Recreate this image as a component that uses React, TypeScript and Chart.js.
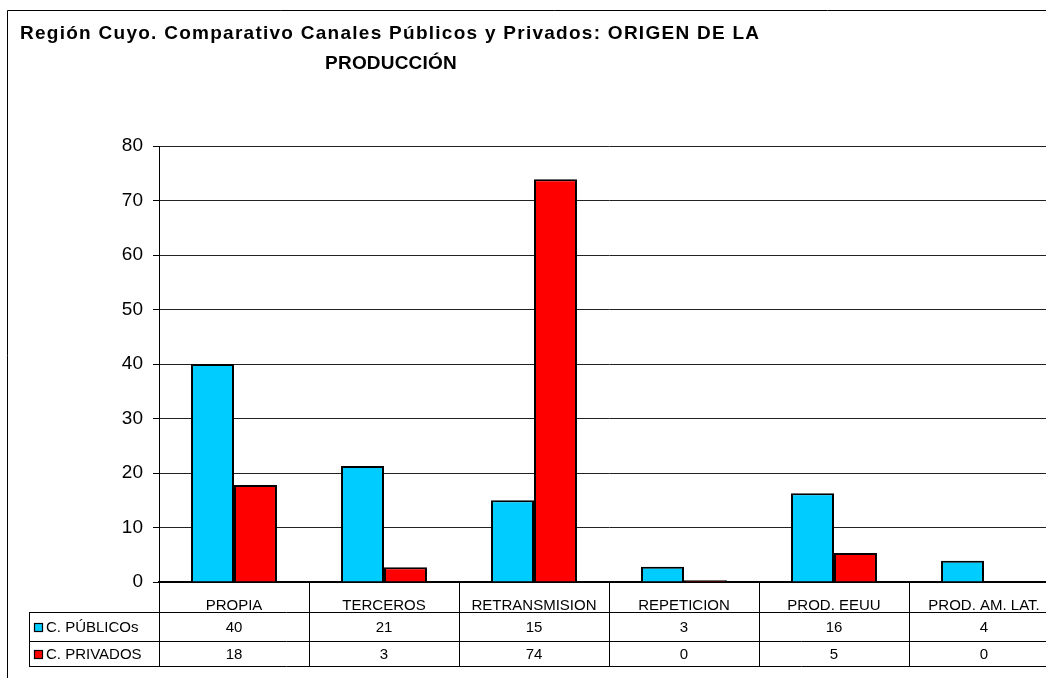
import { useEffect, useRef } from 'react';
import { Chart, registerables } from 'chart.js';

Chart.register(...registerables);

const titleLines = [
  'Región Cuyo. Comparativo Canales Públicos y Privados: ORIGEN DE LA',
  'PRODUCCIÓN',
];
const categories = ['PROPIA', 'TERCEROS', 'RETRANSMISION', 'REPETICION', 'PROD. EEUU', 'PROD. AM. LAT.'];
const seriesNames = ['C. PÚBLICOs', 'C. PRIVADOS'];
const publicos = [40, 21.3, 15, 2.8, 16.3, 3.9];
const privados = [17.8, 2.7, 73.9, 0.3, 5.3, 0];
const tablePublicos = ['40', '21', '15', '3', '16', '4'];
const tablePrivados = ['18', '3', '74', '0', '5', '0'];
const seriesColors = ['#00CCFF', '#FF0000'];

const FONT = "'Liberation Sans', Arial, sans-serif";

export default function App() {
  const ref = useRef<HTMLCanvasElement>(null);

  useEffect(() => {
    const canvas = ref.current;
    if (!canvas) return;

    const decorPlugin = {
      id: 'decor',
      afterDraw(chart: any) {
        const ctx = chart.ctx as CanvasRenderingContext2D;
        const xs = chart.scales.x;
        const area = chart.chartArea;
        const n = categories.length;
        const catW = (xs.right - xs.left) / n;
        const top = area.bottom;
        const rowY = [612, 641, 666];
        const tableLeft = 29;
        const tableRight = xs.right;

        ctx.save();
        // outer frame
        ctx.strokeStyle = '#000';
        ctx.lineWidth = 1;
        ctx.beginPath();
        ctx.moveTo(7.5, 2000);
        ctx.lineTo(7.5, 10.5);
        ctx.lineTo(2000, 10.5);
        ctx.stroke();

        // title
        ctx.fillStyle = '#000';
        ctx.font = `bold 19px ${FONT}`;
        ctx.textBaseline = 'alphabetic';
        ctx.textAlign = 'left';
        const w0 = ctx.measureText(titleLines[0]).width;
        const spacing = (739 - w0) / (titleLines[0].length - 1);
        (ctx as any).letterSpacing = `${spacing}px`;
        ctx.fillText(titleLines[0], 20, 39);
        (ctx as any).letterSpacing = '0.2px';
        const w1 = ctx.measureText(titleLines[1]).width;
        ctx.fillText(titleLines[1], 391 - w1 / 2, 69);
        (ctx as any).letterSpacing = '0px';

        // table grid
        ctx.strokeStyle = '#000';
        ctx.lineWidth = 1;
        ctx.beginPath();
        for (let i = 0; i <= n; i++) {
          const px = Math.round(xs.getPixelForValue(0) - catW / 2 + i * catW) + 0.5;
          ctx.moveTo(px, top);
          ctx.lineTo(px, rowY[2]);
        }
        for (const y of rowY) {
          ctx.moveTo(tableLeft, y + 0.5);
          ctx.lineTo(tableRight, y + 0.5);
        }
        ctx.moveTo(tableLeft + 0.5, rowY[0]);
        ctx.lineTo(tableLeft + 0.5, rowY[2]);
        ctx.stroke();

        // legend rows + values
        const rows = [tablePublicos, tablePrivados];
        ctx.font = `15px ${FONT}`;
        ctx.textBaseline = 'middle';
        for (let r = 0; r < 2; r++) {
          const cy = (rowY[r] + rowY[r + 1]) / 2 + 1;
          ctx.fillStyle = seriesColors[r];
          ctx.fillRect(34.5, Math.round(cy) - 4.5, 8, 8);
          ctx.strokeStyle = '#000';
          ctx.lineWidth = 1.2;
          ctx.strokeRect(34.5, Math.round(cy) - 4.5, 8, 8);
          ctx.fillStyle = '#000';
          ctx.textAlign = 'left';
          ctx.fillText(seriesNames[r], 46, cy);
          ctx.textAlign = 'center';
          for (let i = 0; i < n; i++) {
            ctx.fillText(rows[r][i], xs.getPixelForValue(i), cy);
          }
        }
        ctx.restore();
      },
    };

    const chart = new Chart(canvas, {
      type: 'bar',
      data: {
        labels: categories,
        datasets: [
          {
            label: seriesNames[0],
            data: publicos,
            backgroundColor: seriesColors[0],
            borderColor: '#000',
            borderWidth: 2,
            barPercentage: 1,
            categoryPercentage: 0.573,
          },
          {
            label: seriesNames[1],
            data: privados,
            backgroundColor: seriesColors[1],
            borderColor: '#000',
            borderWidth: 2,
            barPercentage: 1,
            categoryPercentage: 0.573,
          },
        ],
      },
      options: {
        responsive: false,
        animation: false,
        devicePixelRatio: 1,
        layout: { padding: { left: 0, top: 146, right: 41, bottom: 88 } },
        plugins: {
          legend: { display: false },
          title: { display: false },
          tooltip: { enabled: false },
        },
        scales: {
          x: {
            offset: true,
            grid: { display: false },
            border: { color: '#000', width: 2 },
            ticks: {
              color: '#000',
              font: { family: FONT, size: 15 },
              padding: 7,
              maxRotation: 0,
              autoSkip: false,
            },
            afterFit(s: any) {
              s.height = 30;
            },
          },
          y: {
            min: 0,
            max: 80,
            ticks: {
              stepSize: 10,
              color: '#000',
              font: { family: FONT, size: 19 },
              padding: 10,
            },
            grid: { color: '#222', lineWidth: 1, tickLength: 6, tickColor: '#000' },
            border: { color: '#000', width: 1 },
            afterFit(s: any) {
              s.width = 159;
            },
          },
        },
      },
      plugins: [decorPlugin],
    });

    return () => chart.destroy();
  }, []);

  return (
    <div
      style={{
        position: 'fixed',
        left: 0,
        top: 0,
        width: 1046,
        height: 678,
        overflow: 'hidden',
        background: '#fff',
      }}
    >
      <canvas ref={ref} width={1100} height={700} style={{ display: 'block', width: 1100, height: 700 }} />
    </div>
  );
}
